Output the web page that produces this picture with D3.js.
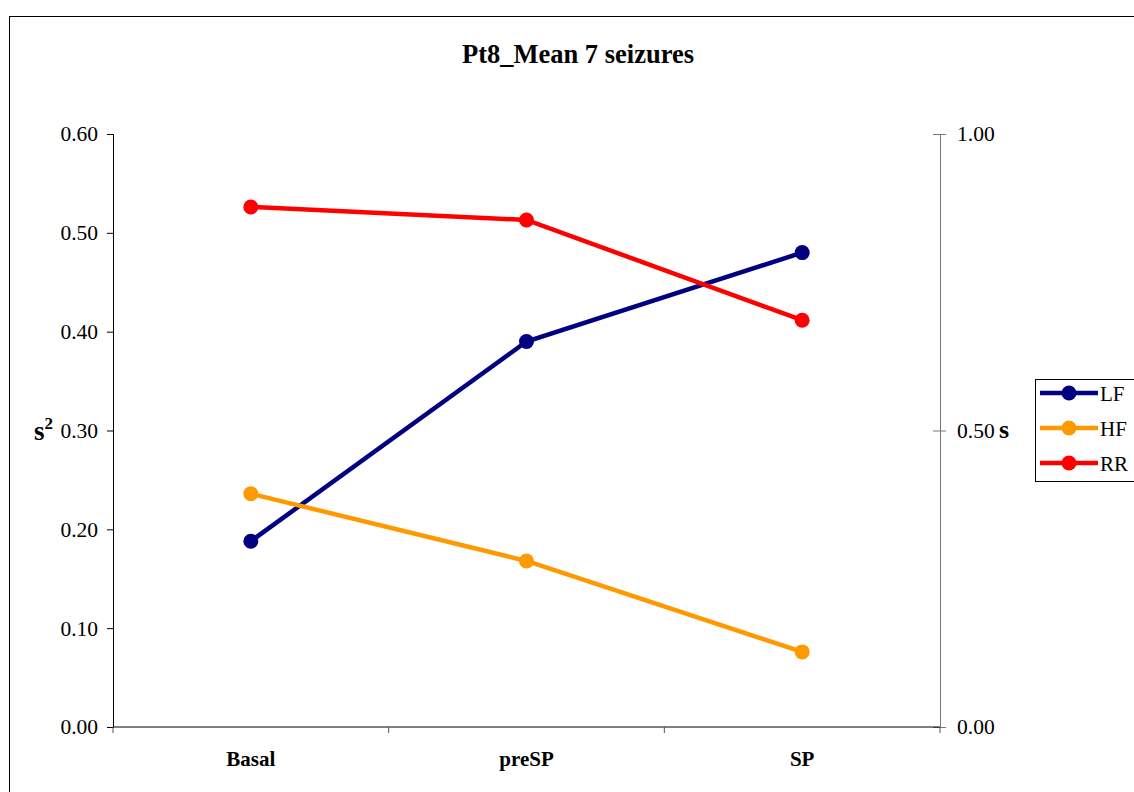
<!DOCTYPE html>
<html lang="en">
<head>
  <meta charset="UTF-8" />
  <title>Pt8_Mean 7 seizures</title>
  <style>
    body { margin: 0; background: #fff; }
    svg text { font-family: "Liberation Serif", "Times New Roman", serif; }
  </style>
  <script src="https://d3js.org/d3.v7.min.js"></script>
</head>
<body>
  <div id="chart"></div>
  <script>
    const width = 1134;
    const height = 792;

    // data
    const categories = ["Basal", "preSP", "SP"];
    const lfValues = [0.188, 0.390, 0.480];   // left axis, s^2
    const hfValues = [0.236, 0.168, 0.076];   // left axis, s^2
    const rrValues = [0.877, 0.855, 0.686];   // right axis, s
    const leftTicks = [0, 0.1, 0.2, 0.3, 0.4, 0.5, 0.6];
    const rightTicks = [0, 0.5, 1.0];

    const series = [
      { name: "LF", values: lfValues, color: "#000080", axis: "left" },
      { name: "HF", values: hfValues, color: "#FF9900", axis: "left" },
      { name: "RR", values: rrValues, color: "#FF0000", axis: "right" }
    ];

    const plot = { left: 113, right: 940, top: 134, bottom: 727 };

    const svg = d3.select("#chart")
      .append("svg")
      .attr("width", width)
      .attr("height", height);

    // outer frame
    svg.append("rect")
      .attr("x", 9.5).attr("y", 16.5)
      .attr("width", 1140).attr("height", 800)
      .attr("fill", "none")
      .attr("stroke", "#000")
      .attr("stroke-width", 1);

    const x = d3.scaleBand()
      .domain(categories)
      .range([plot.left, plot.right]);

    const yLeft = d3.scaleLinear().domain([0, 0.6]).range([plot.bottom, plot.top]);
    const yRight = d3.scaleLinear().domain([0, 1]).range([plot.bottom, plot.top]);

    // title
    svg.append("text")
      .attr("x", 578).attr("y", 63)
      .attr("text-anchor", "middle")
      .attr("font-size", 26.5)
      .attr("font-weight", "bold")
      .text("Pt8_Mean 7 seizures");

    // left axis
    const gLeft = svg.append("g")
      .attr("transform", `translate(${plot.left},0)`)
      .call(d3.axisLeft(yLeft).tickValues(leftTicks).tickFormat(d3.format(".2f")).tickSize(6).tickPadding(9));
    gLeft.select(".domain").attr("stroke", "#000");
    gLeft.selectAll("line").attr("stroke", "#000");
    gLeft.selectAll("text").attr("font-size", 21.5).attr("fill", "#000");

    // right axis (ticks cross the line)
    const gRight = svg.append("g")
      .attr("transform", `translate(${plot.right},0)`)
      .call(d3.axisRight(yRight).tickValues(rightTicks).tickFormat(d3.format(".2f")).tickSizeInner(6).tickSizeOuter(0).tickPadding(11));
    gRight.select(".domain").attr("stroke", "#777");
    gRight.selectAll(".tick line").attr("x1", -7).attr("x2", 6).attr("stroke", "#777");
    gRight.selectAll("text").attr("font-size", 21.5).attr("fill", "#000");

    // bottom axis, ticks at category boundaries
    const gBottom = svg.append("g")
      .attr("transform", `translate(0,${plot.bottom})`);
    gBottom.append("line")
      .attr("x1", plot.left).attr("x2", plot.right)
      .attr("stroke", "#000");
    const bounds = categories.map(c => x(c)).concat([x(categories[categories.length - 1]) + x.bandwidth()]);
    gBottom.selectAll(".xtick")
      .data(bounds)
      .enter().append("line")
      .attr("class", "xtick")
      .attr("x1", d => d).attr("x2", d => d)
      .attr("y1", 0).attr("y2", 6)
      .attr("stroke", "#555");
    gBottom.selectAll(".xlabel")
      .data(categories)
      .enter().append("text")
      .attr("class", "xlabel")
      .attr("x", d => x(d) + x.bandwidth() / 2)
      .attr("y", 39)
      .attr("text-anchor", "middle")
      .attr("font-size", 21)
      .attr("font-weight", "bold")
      .text(d => d);

    // axis titles
    const leftTitle = svg.append("text")
      .attr("x", 34).attr("y", 440)
      .attr("font-size", 27)
      .attr("font-weight", "bold");
    leftTitle.append("tspan").text("s");
    leftTitle.append("tspan").attr("dy", -11).attr("font-size", 17).text("2");

    svg.append("text")
      .attr("x", 999).attr("y", 438)
      .attr("font-size", 26)
      .attr("font-weight", "bold")
      .text("s");

    // lines and markers
    const cx = d => x(d) + x.bandwidth() / 2;
    series.forEach(s => {
      const yScale = s.axis === "left" ? yLeft : yRight;
      const line = d3.line()
        .x((v, i) => cx(categories[i]))
        .y(v => yScale(v));
      svg.append("path")
        .datum(s.values)
        .attr("d", line)
        .attr("fill", "none")
        .attr("stroke", s.color)
        .attr("stroke-width", 4.5);
      svg.selectAll(null)
        .data(s.values)
        .enter().append("circle")
        .attr("cx", (v, i) => cx(categories[i]))
        .attr("cy", v => yScale(v))
        .attr("r", 7.5)
        .attr("fill", s.color);
    });

    // legend
    const legend = svg.append("g").attr("transform", "translate(1035,379)");
    legend.append("rect")
      .attr("x", 0.5).attr("y", 0.5)
      .attr("width", 120).attr("height", 102)
      .attr("fill", "#fff")
      .attr("stroke", "#000");
    const items = legend.selectAll(".item")
      .data(series)
      .enter().append("g")
      .attr("transform", (d, i) => `translate(0,${14 + i * 35})`);
    items.append("line")
      .attr("x1", 5).attr("x2", 63)
      .attr("stroke", d => d.color)
      .attr("stroke-width", 4.5);
    items.append("circle")
      .attr("cx", 34).attr("r", 7.5)
      .attr("fill", d => d.color);
    items.append("text")
      .attr("x", 65).attr("y", 8)
      .attr("font-size", 21)
      .text(d => d.name);
  </script>
</body>
</html>
